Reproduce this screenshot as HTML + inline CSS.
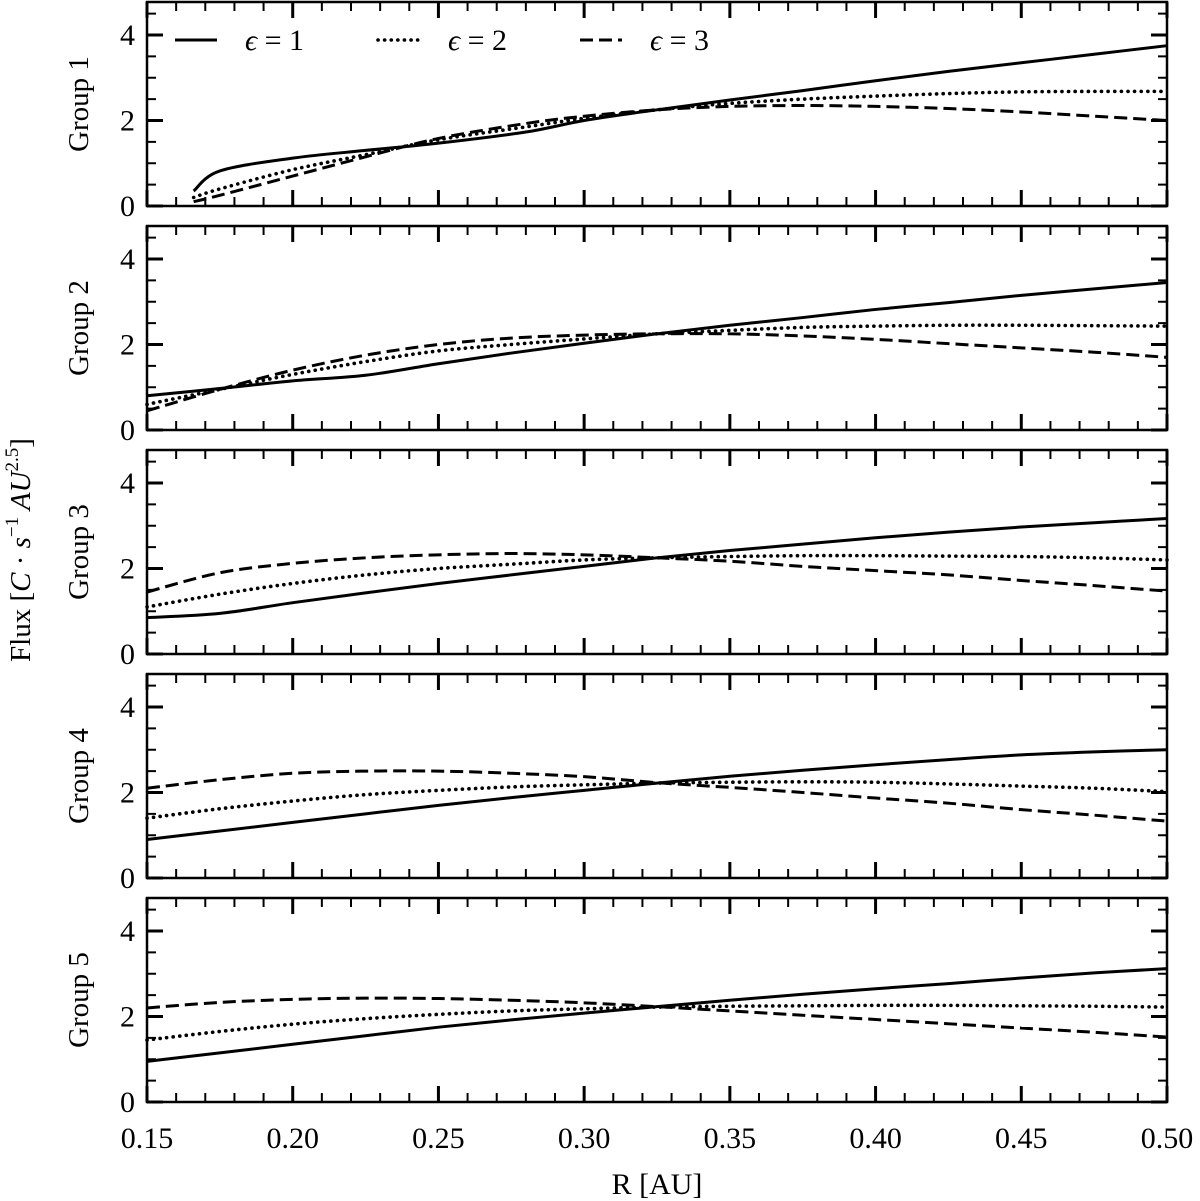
<!DOCTYPE html>
<html><head><meta charset="utf-8"><style>body{margin:0;background:#fff}svg{display:block}text{font-family:"Liberation Serif",serif;fill:#000}</style></head>
<body>
<svg id="c" width="1200" height="1201" viewBox="0 0 1200 1201"></svg>
<script>
const xTicks=[0.15,0.20,0.25,0.30,0.35,0.40,0.45,0.50];
const xTickLabels=["0.15","0.20","0.25","0.30","0.35","0.40","0.45","0.50"];
const yTicks=[0,2,4];
const groups=["Group 1","Group 2","Group 3","Group 4","Group 5"];
const xs1=[0.166,0.175,0.2,0.225,0.25,0.28,0.3,0.325,0.35,0.375,0.4,0.425,0.45,0.475,0.5];
const xs=[0.15,0.175,0.2,0.225,0.25,0.275,0.3,0.325,0.35,0.375,0.4,0.425,0.45,0.475,0.5];
const g1e1=[0.35,0.82,1.12,1.3,1.47,1.73,2.0,2.25,2.48,2.7,2.93,3.15,3.35,3.55,3.75];
const g1e2=[0.2,0.4,0.85,1.2,1.55,1.85,2.05,2.25,2.4,2.5,2.57,2.63,2.67,2.68,2.68];
const g1e3=[0.1,0.25,0.7,1.15,1.58,1.93,2.1,2.25,2.33,2.35,2.33,2.28,2.2,2.1,2.0];
const g2e1=[0.8,0.97,1.15,1.28,1.55,1.8,2.03,2.25,2.45,2.63,2.82,2.98,3.15,3.3,3.45];
const g2e2=[0.6,0.95,1.3,1.6,1.85,2.0,2.13,2.25,2.33,2.4,2.43,2.45,2.45,2.44,2.43];
const g2e3=[0.45,0.95,1.4,1.75,2.0,2.15,2.22,2.25,2.25,2.2,2.12,2.02,1.92,1.82,1.7];
const g3e1=[0.85,0.95,1.2,1.43,1.65,1.85,2.05,2.25,2.42,2.57,2.72,2.85,2.97,3.07,3.17];
const g3e2=[1.1,1.4,1.65,1.85,2.0,2.1,2.2,2.25,2.28,2.3,2.3,2.29,2.28,2.25,2.2];
const g3e3=[1.45,1.9,2.12,2.25,2.32,2.35,2.32,2.25,2.17,2.05,1.95,1.85,1.72,1.6,1.47];
const g4e1=[0.9,1.1,1.3,1.5,1.7,1.88,2.05,2.22,2.38,2.52,2.65,2.77,2.88,2.95,3.0];
const g4e2=[1.4,1.62,1.8,1.95,2.05,2.13,2.18,2.22,2.24,2.25,2.24,2.2,2.15,2.1,2.02];
const g4e3=[2.1,2.3,2.45,2.5,2.5,2.45,2.37,2.23,2.12,2.0,1.87,1.75,1.6,1.47,1.33];
const g5e1=[0.95,1.15,1.35,1.55,1.75,1.92,2.08,2.23,2.38,2.52,2.65,2.77,2.9,3.02,3.12];
const g5e2=[1.45,1.65,1.82,1.95,2.05,2.13,2.18,2.22,2.24,2.25,2.26,2.26,2.25,2.24,2.22];
const g5e3=[2.2,2.33,2.4,2.43,2.42,2.38,2.32,2.23,2.13,2.03,1.93,1.83,1.73,1.63,1.52];

const panels=[[xs1,g1e1,g1e2,g1e3],[xs,g2e1,g2e2,g2e3],[xs,g3e1,g3e2,g3e3],[xs,g4e1,g4e2,g4e3],[xs,g5e1,g5e2,g5e3]];
const NS="http://www.w3.org/2000/svg";
const svg=document.getElementById('c');
const L=147,R=1167,PH=204,STEP=224,TOP0=2,YMAX=204/42.75;
function sx(v){return L+(v-0.15)/0.35*(R-L);}
function mk(t,a,p){const e=document.createElementNS(NS,t);for(const k in a)e.setAttribute(k,a[k]);(p||svg).appendChild(e);return e;}
const styles=[{},{"stroke-dasharray":"0.1 6.5","stroke-linecap":"round","stroke-width":3.6},{"stroke-dasharray":"13 6"}];
const sNames=["eps-1-line","eps-2-line","eps-3-line"];
panels.forEach((pd,i)=>{
  const top=TOP0+i*STEP,bot=top+PH;
  const sy=v=>bot-v/YMAX*PH;
  const g=mk('g',{});
  
  
  for(let k=0;k<=35;k++){const v=0.15+k*0.01,x=sx(v),len=(k%5==0)?16:9;
    mk('line',{x1:x,x2:x,y1:bot,y2:bot-len,stroke:'#000','stroke-width':(k%5==0)?3:2},g);
    mk('line',{x1:x,x2:x,y1:top,y2:top+len,stroke:'#000','stroke-width':(k%5==0)?3:2},g);}
  for(let k=0;k*0.5<=YMAX;k++){const v=k*0.5,y=sy(v),len=(k%4==0)?16:9;
    mk('line',{x1:L,x2:L+len,y1:y,y2:y,stroke:'#000','stroke-width':(k%4==0)?3:2},g);
    mk('line',{x1:R,x2:R-len,y1:y,y2:y,stroke:'#000','stroke-width':(k%4==0)?3:2},g);}
  const fr=mk('rect',{x:L,y:top,width:R-L,height:PH,fill:'none',stroke:'#000','stroke-width':2.5},g);
  
  yTicks.forEach(v=>{const t=mk('text',{x:L-12,y:sy(v)+10,'text-anchor':'end','font-size':30},g);t.textContent=v;
    });
  const gl=mk('text',{x:0,y:0,'font-size':29,'text-anchor':'middle',transform:`translate(88,${(top+bot)/2}) rotate(-90)`},g);
  gl.textContent=groups[i];
  
  
  const xv=pd[0];
  for(let s=0;s<3;s++){
    const ys=pd[s+1];const P=xv.map((x,j)=>[sx(x),sy(ys[j])]);
    let d=`M${P[0][0]},${P[0][1]}`;
    for(let j=0;j<P.length-1;j++){const p0=P[Math.max(j-1,0)],p1=P[j],p2=P[j+1],p3=P[Math.min(j+2,P.length-1)];
      d+=`C${p1[0]+(p2[0]-p0[0])/6},${p1[1]+(p2[1]-p0[1])/6} ${p2[0]-(p3[0]-p1[0])/6},${p2[1]-(p3[1]-p1[1])/6} ${p2[0]},${p2[1]}`;}
    const a=Object.assign({d:d,fill:'none',stroke:'#000','stroke-width':3},styles[s]);
    const pa=mk('path',a,g);
    
    
  }
});
const lastBot=TOP0+4*STEP+PH;
xTicks.forEach((v,k)=>{const t=mk('text',{x:sx(v),y:lastBot+46,'text-anchor':'middle','font-size':30});t.textContent=xTickLabels[k];
  });
const xt=mk('text',{x:(L+R)/2,y:1194,'text-anchor':'middle','font-size':30});xt.textContent='R [AU]';

const yt=mk('text',{x:0,y:0,'text-anchor':'middle','font-size':29,transform:'translate(30,550) rotate(-90)'});
yt.innerHTML='Flux [<tspan font-style="italic">C</tspan> · <tspan font-style="italic">s</tspan><tspan font-size="19" dy="-12">−1</tspan><tspan dy="12" font-style="italic"> AU</tspan><tspan font-size="19" dy="-12">2.5</tspan><tspan dy="12">]</tspan>';

const leg=[[175,"1"],[378,"2"],[580,"3"]];
leg.forEach((l,s)=>{const a=Object.assign({x1:l[0],x2:l[0]+42,y1:40,y2:40,stroke:'#000','stroke-width':3},styles[s]);
  const ln=mk('line',a);
  const t=mk('text',{x:l[0]+70,y:50,'font-size':30});t.innerHTML='<tspan font-style="italic">ϵ</tspan> = '+l[1];
  });
</script>
</body></html>
